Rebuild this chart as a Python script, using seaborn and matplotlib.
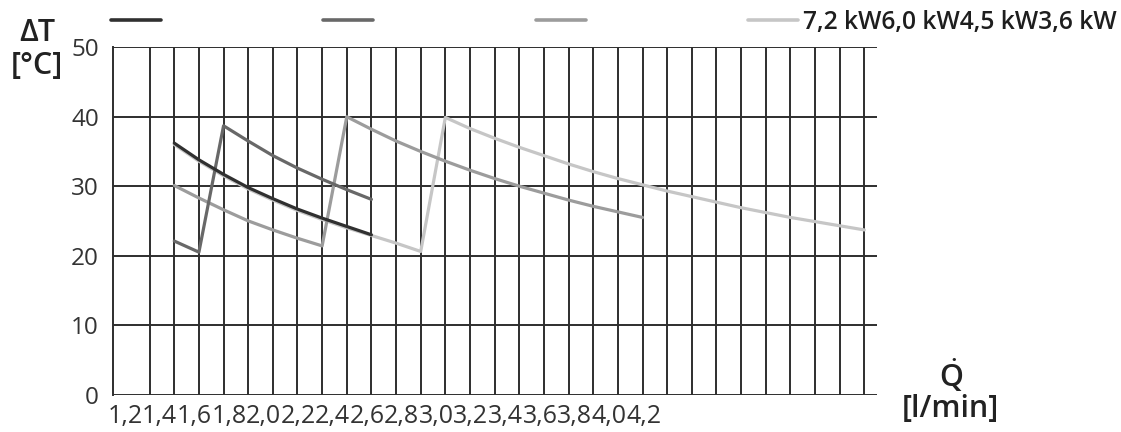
import matplotlib
matplotlib.use("Agg")
import matplotlib.pyplot as plt
import numpy as np
import pandas as pd
import seaborn as sns

# flow grid (one vertical grid line per 0,1 l/min) and the printed tick labels
flow_grid = [1.2, 1.3, 1.4, 1.5, 1.6, 1.7, 1.8, 1.9, 2.0, 2.1, 2.2, 2.3, 2.4, 2.5, 2.6, 2.7,
             2.8, 2.9, 3.0, 3.1, 3.2, 3.3, 3.4, 3.5, 3.6, 3.7, 3.8, 3.9, 4.0, 4.1, 4.2]
tick_labels = ["1,2", "1,4", "1,6", "1,8", "2,0", "2,2", "2,4", "2,6", "2,8", "3,0",
               "3,2", "3,4", "3,6", "3,8", "4,0", "4,2"]
dt_ticks = [0, 10, 20, 30, 40, 50]

# curves
flow_36 = [1.4, 1.5, 1.6, 1.7, 1.8, 1.9, 2.0, 2.1, 2.2]
dt_36 = [36.2, 33.8, 31.7, 29.8, 28.2, 26.7, 25.4, 24.2, 23.0]

flow_45 = [1.4, 1.5, 1.6, 1.7, 1.8, 1.9, 2.0, 2.1, 2.2]
dt_45 = [22.1, 20.5, 38.7, 36.5, 34.4, 32.6, 31.0, 29.5, 28.1]

flow_60 = [1.4, 1.5, 1.6, 1.7, 1.8, 1.9, 2.0, 2.1, 2.2, 2.3, 2.4, 2.5, 2.6, 2.7,
           2.8, 2.9, 3.0, 3.1, 3.2, 3.3]
dt_60 = [30.1, 28.3, 26.6, 25.0, 23.7, 22.5, 21.4, 40.0, 38.2, 36.5, 35.0, 33.6, 32.3, 31.1,
         30.0, 29.0, 28.0, 27.1, 26.3, 25.5]

flow_72 = [1.4, 1.5, 1.6, 1.7, 1.8, 1.9, 2.0, 2.1, 2.2, 2.3, 2.4, 2.5, 2.6, 2.7,
           2.8, 2.9, 3.0, 3.1, 3.2, 3.3, 3.4, 3.5, 3.6, 3.7, 3.8, 3.9, 4.0, 4.1, 4.2]
dt_72 = [36.0, 33.6, 31.5, 29.6, 28.0, 26.5, 25.2, 24.0, 22.9, 21.8, 20.6, 39.9, 38.3, 36.9,
         35.6, 34.4, 33.2, 32.1, 31.1, 30.2, 29.3, 28.5, 27.7, 26.9, 26.2, 25.5, 24.9, 24.3, 23.7]

legend_text = "7,2 kW6,0 kW4,5 kW3,6 kW"

sns.set_style("white")
plt.rcParams['font.family'] = ['Open Sans', 'DejaVu Sans']
plt.rcParams['mathtext.fontset'] = 'custom'
plt.rcParams['mathtext.rm'] = 'Open Sans:semibold'
plt.rcParams['mathtext.it'] = 'Open Sans:semibold'
plt.rcParams['mathtext.bf'] = 'Open Sans:bold'

pos = {q: i for i, q in enumerate(flow_grid)}
rows = []
for name, fl, dt in [("7,2", flow_72, dt_72), ("6,0", flow_60, dt_60),
                     ("4,5", flow_45, dt_45), ("3,6", flow_36, dt_36)]:
    for q, v in zip(fl, dt):
        rows.append({"series": name, "pos": pos[q], "dt": v})
df = pd.DataFrame(rows)

palette = {"7,2": "#c6c6c6", "6,0": "#9c9c9c", "4,5": "#686868", "3,6": "#303030"}
grid_col = "#2e2e2e"

fig = plt.figure(figsize=(11.21, 4.32), dpi=100)
ax = fig.add_axes([0.1005, 0.0868, 0.6815, 0.8037])

sns.lineplot(data=df, x="pos", y="dt", hue="series", palette=palette,
             hue_order=["7,2", "6,0", "4,5", "3,6"], estimator=None, sort=False,
             linewidth=2.3, legend=False, ax=ax)
for ln in ax.lines:
    ln.set_zorder(3)

ax.set_xlim(-0.5, len(flow_grid) - 0.5)
ax.set_ylim(0, 50)

# vertical grid on every flow step, labels squeezed side by side
ax.set_xticks(range(len(flow_grid)), minor=True)
label_step = 1.404
ax.set_xticks(np.arange(len(tick_labels)) * label_step)
ax.set_xticklabels(tick_labels, fontsize=18, color="#333333")
ax.set_yticks(dt_ticks)
ax.set_yticklabels([str(v) for v in dt_ticks], fontsize=17.5, color="#333333")

ax.grid(False)
ax.grid(True, which="minor", axis="x", color=grid_col, linewidth=1.4)
ax.grid(True, which="major", axis="y", color=grid_col, linewidth=1.4)
ax.tick_params(axis="both", which="both", length=0)
ax.tick_params(axis="x", pad=7)
ax.tick_params(axis="y", pad=10)
ax.set_axisbelow(True)

for side in ["top", "right", "bottom"]:
    ax.spines[side].set_visible(False)
ax.spines["left"].set_color(grid_col)
ax.spines["left"].set_linewidth(1.4)

ax.set_ylabel("ΔT\n[°C]", rotation=0, fontsize=22, fontweight="semibold",
              ha="center", va="center", linespacing=1.15, color="#222222")
ax.yaxis.set_label_coords(-0.099, 0.993)
ax.set_xlabel("$\\dot{\\mathrm{Q}}$\n[l/min]", fontsize=22, fontweight="semibold",
              ha="center", va="center", linespacing=1.0, color="#222222")
ax.xaxis.set_label_coords(1.097, 0.012)

# legend: four handles spread over the top, all labels packed after the last one
order = [palette["3,6"], palette["4,5"], palette["6,0"], palette["7,2"]]
leg_handles = [plt.Line2D([], [], color=c, linewidth=2.6) for c in order]
leg = fig.legend(leg_handles, ["", "", "", legend_text], ncol=4, loc="upper left",
                 bbox_to_anchor=(111 / 1121, 1 - 10 / 432), frameon=False,
                 handlelength=2.03, handletextpad=0.2,
                 columnspacing=6.41, borderpad=0, borderaxespad=0,
                 prop={"weight": "semibold", "size": 17.7})
for t in leg.get_texts():
    t.set_color("#1e1e1e")

fig.savefig("out.png", dpi=100)
